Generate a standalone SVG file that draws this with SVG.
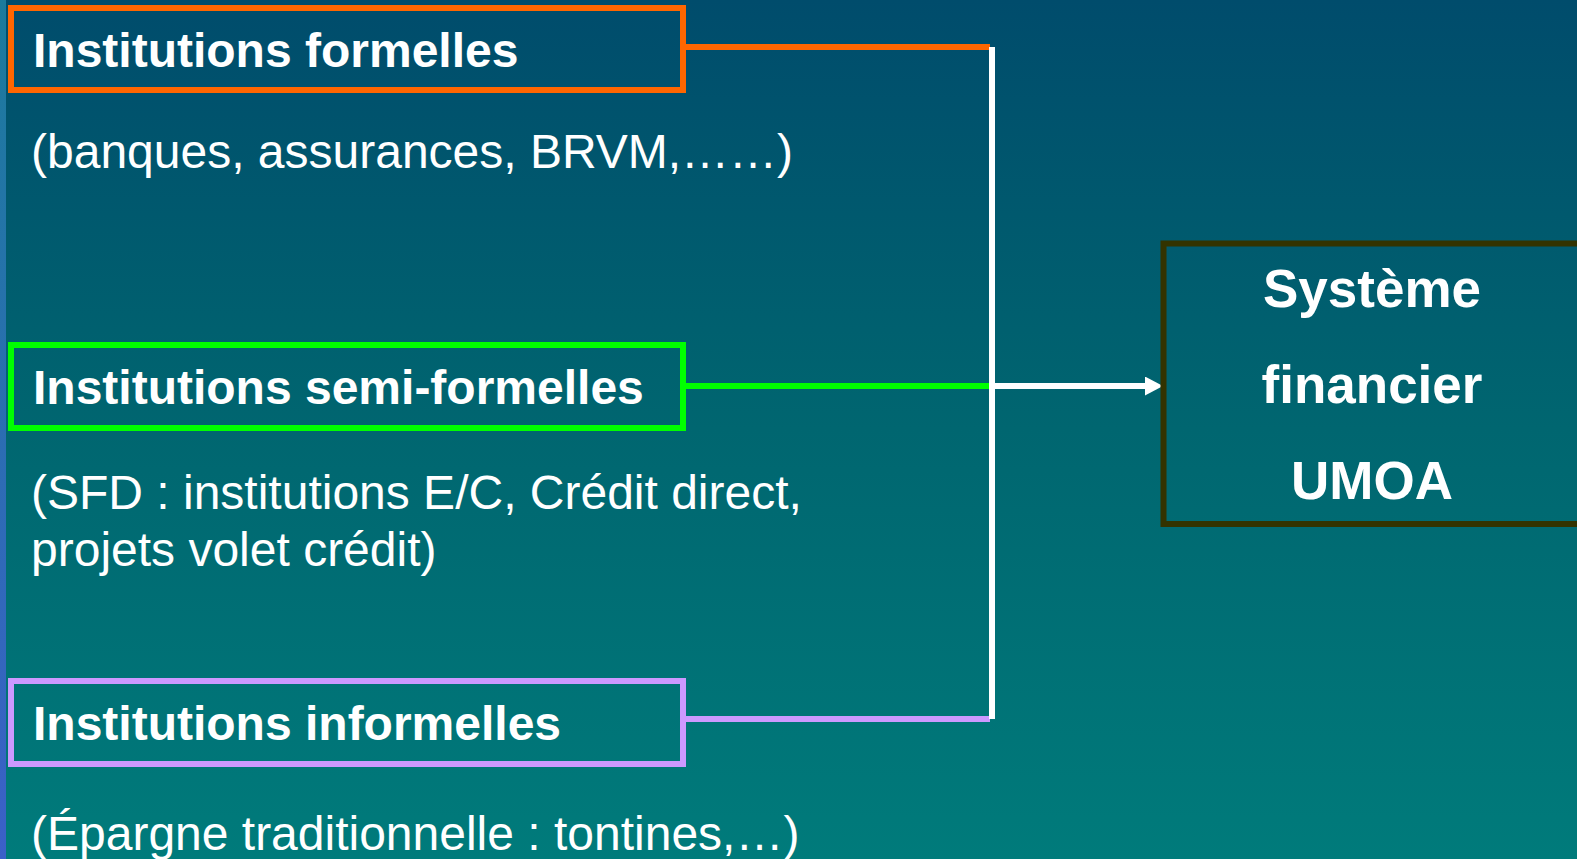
<svg xmlns="http://www.w3.org/2000/svg" width="1577" height="859" viewBox="0 0 1577 859">
<defs>
<linearGradient id="bg" x1="0" y1="0" x2="0" y2="1">
<stop offset="0" stop-color="#004c6c"/>
<stop offset="0.5" stop-color="#006670"/>
<stop offset="1" stop-color="#007b7b"/>
</linearGradient>
<linearGradient id="strip" x1="0" y1="0" x2="0" y2="1">
<stop offset="0" stop-color="#1b7b9c"/>
<stop offset="1" stop-color="#3b60c8"/>
</linearGradient>
<marker id="arrow" markerUnits="userSpaceOnUse" markerWidth="18" markerHeight="19" viewBox="0 0 18 19" refX="0" refY="9.5" orient="auto">
<path d="M0,0 L18,9.5 L0,19 z" fill="#ffffff"/>
</marker>
</defs>
<style>
.box{fill:none;stroke-width:6}
.head{font-family:"Liberation Sans",Arial,sans-serif;font-weight:bold;font-size:48px;fill:#ffffff}
.sub{font-family:"Liberation Sans",Arial,sans-serif;font-size:48px;fill:#ffffff}
.big{font-family:"Liberation Sans",Arial,sans-serif;font-weight:bold;font-size:53px;fill:#ffffff;text-anchor:middle}
.wire{fill:none;stroke-width:6}
</style>
<rect x="0" y="0" width="1577" height="859" fill="url(#bg)"/>
<rect x="0" y="0" width="6" height="859" fill="url(#strip)"/>
<g id="connectors">
<line class="wire" x1="686" y1="47" x2="990" y2="47" stroke="#ff6600"/>
<line class="wire" x1="686" y1="386" x2="990" y2="386" stroke="#00ff00"/>
<line class="wire" x1="686" y1="719" x2="990" y2="719" stroke="#cc99ff"/>
<line class="wire" x1="992" y1="47" x2="992" y2="719" stroke="#ffffff"/>
<line class="wire" x1="989" y1="386" x2="1145" y2="386" stroke="#ffffff" marker-end="url(#arrow)"/>
</g>
<g id="formelles">
<rect class="box" x="11" y="8" width="672" height="82" stroke="#ff6600"/>
<text class="head" x="33" y="67">Institutions formelles</text>
<text class="sub" x="31" y="168">(banques, assurances, BRVM,……)</text>
</g>
<g id="semi-formelles">
<rect class="box" x="11" y="345" width="672" height="83" stroke="#00ff00"/>
<text class="head" x="33" y="404">Institutions semi-formelles</text>
<text class="sub" x="31" y="509">(SFD : institutions E/C, Crédit direct,</text>
<text class="sub" x="31" y="566">projets volet crédit)</text>
</g>
<g id="informelles">
<rect class="box" x="11" y="681" width="672" height="83" stroke="#cc99ff"/>
<text class="head" x="33" y="740">Institutions informelles</text>
<text class="sub" x="31" y="850">(Épargne traditionnelle : tontines,…)</text>
</g>
<g id="systeme">
<rect class="box" x="1163.5" y="243.5" width="500" height="280.5" stroke="#333300"/>
<text class="big" x="1372" y="307">Système</text>
<text class="big" x="1372" y="403">financier</text>
<text class="big" x="1372" y="499">UMOA</text>
</g>
</svg>
